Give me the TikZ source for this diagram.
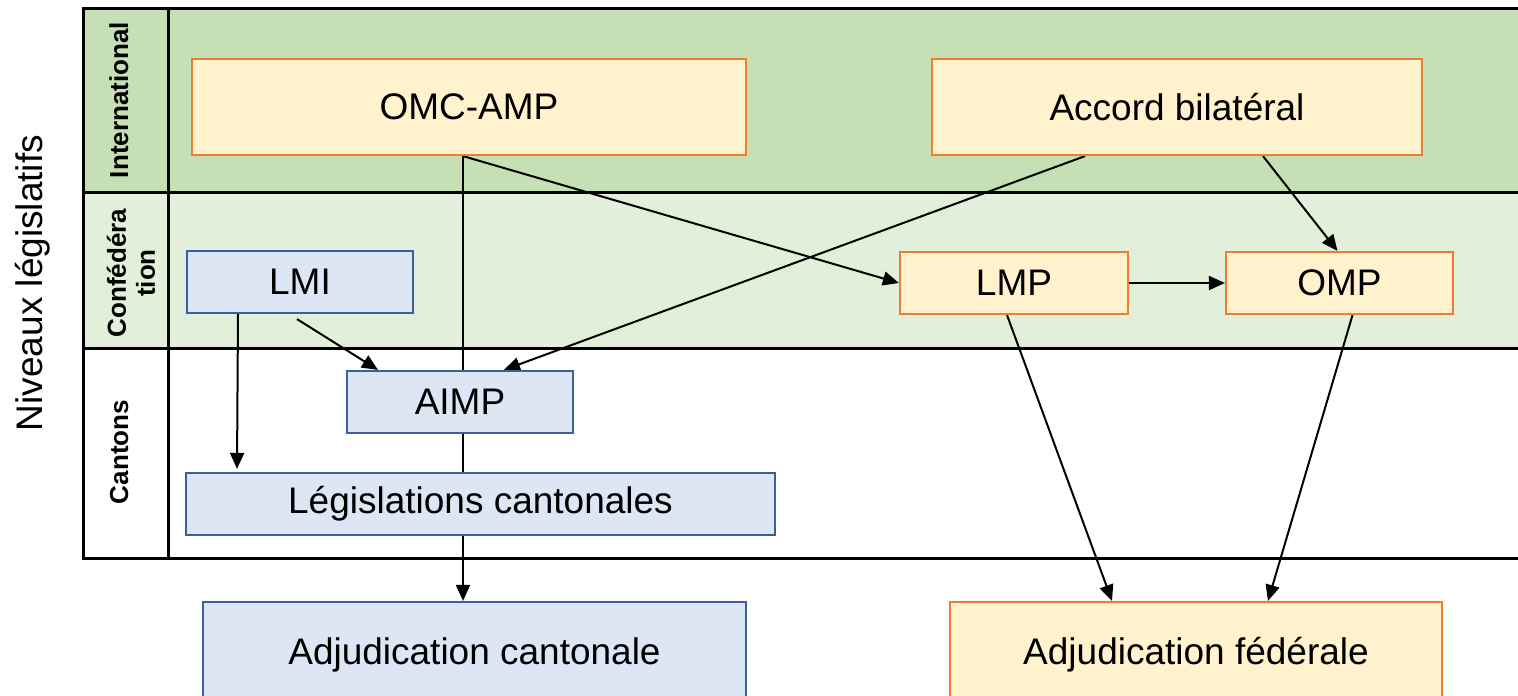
\documentclass[tikz,border=0pt]{standalone}
\usepackage{fontspec}
\setmainfont{Liberation Sans}
\usetikzlibrary{arrows.meta}
\pgfdeclarelayer{bg}
\pgfdeclarelayer{mid}
\pgfsetlayers{bg,mid,main}
\definecolor{rowint}{HTML}{C5E0B4}
\definecolor{rowconf}{HTML}{E2EFDA}
\definecolor{orangeB}{HTML}{ED7D31}
\definecolor{orangeF}{HTML}{FFF2CC}
\definecolor{blueB}{HTML}{3B5FA0}
\definecolor{blueF}{HTML}{DCE6F4}
\begin{document}
\begin{tikzpicture}[x=1pt,y=-1pt,
  boxbase/.style={draw, line width=2.2pt, inner sep=0pt, font=\fontsize{37}{44}\selectfont},
  obox/.style={boxbase, draw=orangeB, fill=orangeF},
  bbox/.style={boxbase, draw=blueB, fill=blueF},
  rowlab/.style={rotate=90, font=\fontsize{26}{29}\selectfont\bfseries, inner sep=0pt},
  grid/.style={line width=3pt, line cap=rect},
  conn/.style={line width=2pt, -{Triangle[length=16pt, width=14pt]}}]
\clip (0,0) rectangle (1518,696);
% row fills and table
\begin{pgfonlayer}{bg}
  \fill[rowint] (83,8) rectangle (1530,192);
  \fill[rowconf] (83,192) rectangle (1530,348);
  \draw[grid] (1530,8) -- (83,8) -- (83,558) -- (1530,558);
  \draw[grid] (168,8) -- (168,558);
  \draw[grid] (83,192) -- (1530,192);
  \draw[grid] (83,348) -- (1530,348);
\end{pgfonlayer}
% labels
\node[font=\fontsize{37}{44}\selectfont, rotate=90, anchor=base, inner sep=0pt] (niv) at (42,283) {Niveaux législatifs};
\node[rowlab, anchor=base] (lint) at (128,100) {International};
\node[rowlab, align=center] (lconf) at (131,273) {Confédéra\\tion};
\node[rowlab, anchor=base] (lcant) at (128,452) {Cantons};
% boxes
\node[obox, minimum width=554pt, minimum height=96pt] (omc) at (469,107) {OMC-AMP};
\node[obox, minimum width=490pt, minimum height=96pt] (acc) at (1177,107) {Accord bilatéral};
\node[bbox, minimum width=226pt, minimum height=62pt] (lmi) at (300,282) {LMI};
\node[obox, minimum width=228pt, minimum height=62pt] (lmp) at (1014,283) {LMP};
\node[obox, minimum width=227pt, minimum height=62pt] (omp) at (1339.5,283) {OMP};
\node[bbox, minimum width=226pt, minimum height=62pt] (aimp) at (460,402) {AIMP};
\node[bbox, minimum width=589pt, minimum height=62pt] (leg) at (480.5,504) {Législations cantonales};
\node[bbox, minimum width=543pt, minimum height=106pt] (adjc) at (474.5,655) {Adjudication cantonale};
\node[obox, minimum width=492pt, minimum height=106pt] (adjf) at (1196,655) {Adjudication fédérale};
% connectors
\begin{pgfonlayer}{mid}
  \draw[conn] ([xshift=-6pt]omc.south) -- ([xshift=-11.5pt]adjc.north);
  \draw[conn] ([xshift=-6pt]omc.south) -- (lmp.west);
  \draw[conn] ([xshift=-92pt]acc.south) -- ([xshift=44pt]aimp.north);
  \draw[conn] ([xshift=86pt]acc.south) -- ([xshift=-2pt]omp.north);
  \draw[conn] ([xshift=-62pt]lmi.south) -- ([xshift=-243.5pt,yshift=3pt]leg.north);
  \draw[conn] ([xshift=-3pt,yshift=-5pt]lmi.south) -- ([xshift=-82pt]aimp.north);
  \draw[conn] (lmp.east) -- (omp.west);
  \draw[conn] ([xshift=-7pt]lmp.south) -- ([xshift=-84pt]adjf.north);
  \draw[conn] ([xshift=13pt]omp.south) -- ([xshift=72pt]adjf.north);
\end{pgfonlayer}
\end{tikzpicture}
\end{document}
